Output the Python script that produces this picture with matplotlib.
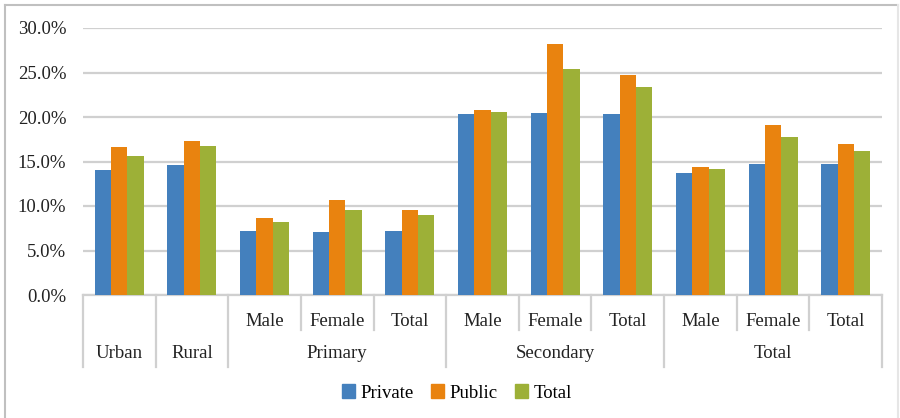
import numpy as np
import matplotlib
matplotlib.use("Agg")
import matplotlib.pyplot as plt
from matplotlib.lines import Line2D
from matplotlib.patches import Patch
import matplotlib.transforms as mtransforms

plt.rcParams['font.family'] = ['Liberation Serif', 'DejaVu Serif']

# category labels (inner row) and outer groups
sub_labels = ["", "", "Male", "Female", "Total", "Male", "Female", "Total", "Male", "Female", "Total"]
group_labels = ["Urban", "Rural", "Primary", "Secondary", "Total"]
group_spans = [(0, 0), (1, 1), (2, 4), (5, 7), (8, 10)]

series_names = ["Private", "Public", "Total"]
private = [14.0, 14.6, 7.2, 7.1, 7.2, 20.3, 20.4, 20.3, 13.7, 14.7, 14.7]
public = [16.6, 17.3, 8.6, 10.7, 9.5, 20.8, 28.2, 24.7, 14.4, 19.1, 17.0]
total = [15.6, 16.7, 8.2, 9.5, 9.0, 20.6, 25.4, 23.4, 14.2, 17.7, 16.2]
colors = ["#4480BD", "#E9830F", "#9DB037"]

W, H = 900, 418
FS = 13.5
fig = plt.figure(figsize=(W / 100, H / 100), dpi=100)
ax = fig.add_axes([83 / W, 1 - 295 / H, (882 - 83) / W, (295 - 28) / H])

x = np.arange(len(private))
bw = 0.225
for i, (vals, c, name) in enumerate(zip([private, public, total], colors, series_names)):
    ax.bar(x + (i - 1) * bw, np.array(vals) / 100, bw, color=c, label=name, zorder=3)

ax.set_xlim(-0.5, len(x) - 0.5)
ax.set_ylim(0, 0.30)
ticks = np.arange(0, 0.301, 0.05)
ax.set_yticks(ticks)
ax.set_yticklabels(["{:.1f}%".format(v * 100) for v in ticks])
ax.tick_params(axis='y', length=0, pad=12, labelsize=FS, colors='#222222')
ax.set_xticks([])
ax.grid(axis='y', color='#d0d0d0', linewidth=1.6, zorder=0)
for s in ['left', 'right', 'top']:
    ax.spines[s].set_visible(False)
ax.spines['bottom'].set_color('#d0d0d0')
ax.spines['bottom'].set_linewidth(1.6)

trans = mtransforms.blended_transform_factory(ax.transData, ax.transAxes)
ah = (295 - 28)
short_y = -35 / ah
full_y = -72 / ah
row1_y = -26 / ah
row2_y = -59 / ah

# separators between categories
full_bounds = [-0.5] + [e + 0.5 for _, e in group_spans]
short_bounds = [2.5, 3.5, 5.5, 6.5, 8.5, 9.5]
for b in full_bounds:
    ax.plot([b, b], [0, full_y], transform=trans, color='#d0d0d0', lw=1.6, clip_on=False)
for b in short_bounds:
    ax.plot([b, b], [0, short_y], transform=trans, color='#d0d0d0', lw=1.6, clip_on=False)

for xi, lab in zip(x, sub_labels):
    if lab:
        ax.text(xi, row1_y, lab, transform=trans, ha='center', va='center', fontsize=FS, color='#222222')
for (s, e), lab in zip(group_spans, group_labels):
    ax.text((s + e) / 2, row2_y, lab, transform=trans, ha='center', va='center', fontsize=FS, color='#222222')

handles = [Patch(color=c) for c in colors]
fig.legend(handles, series_names, loc='center', bbox_to_anchor=(457 / W, 1 - 393 / H), ncol=3,
           frameon=False, fontsize=FS, handlelength=0.7, handleheight=0.7,
           handletextpad=0.3, columnspacing=0.9)

# outer chart border
bc = '#c0c0c0'
fig.add_artist(Line2D([5 / W, 5 / W], [0, 1 - 5 / H], color=bc, lw=1.5))
fig.add_artist(Line2D([5 / W, 898 / W], [1 - 5 / H, 1 - 5 / H], color=bc, lw=1.5))
fig.add_artist(Line2D([898 / W, 898 / W], [0, 1 - 5 / H], color='#e6e6e6', lw=1.5))

fig.savefig("out.png", dpi=100)
